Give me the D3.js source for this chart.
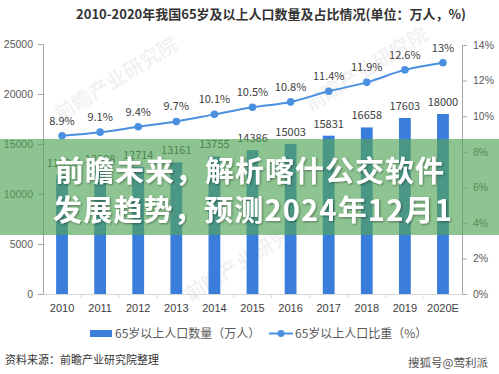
<!DOCTYPE html>
<html>
<head>
<meta charset="utf-8">
<script src="https://cdn.jsdelivr.net/npm/d3@7"></script>
<style>
  html,body{margin:0;padding:0;background:#fff;}
  svg{display:block;font-family:"Noto Sans CJK SC","Noto Sans",sans-serif;}
</style>
</head>
<body>
<div id="chart"></div>
<script>
// 65岁以上人口：柱 = 数量（万人，左轴），线 = 比重（%，右轴）
const years = ["2010","2011","2012","2013","2014","2015","2016","2017","2018","2019","2020E"];
const population = [11894,12288,12714,13161,13755,14386,15003,15831,16658,17603,18000];
const share = [8.9,9.1,9.4,9.7,10.1,10.5,10.8,11.4,11.9,12.6,13];
const leftTicks = [0,5000,10000,15000,20000,25000];
const rightTicks = [0,2,4,6,8,10,12,14];

const W=499, H=374, m={l:43,r:37,t:44,b:80};
const svg = d3.select("#chart").append("svg").attr("width",W).attr("height",H);

const x = d3.scaleBand().domain(years).range([m.l, W-m.r]).paddingInner(0.69).paddingOuter(0.345);
const yL = d3.scaleLinear().domain([0,25000]).range([H-m.b, m.t]);
const yR = d3.scaleLinear().domain([0,14]).range([H-m.b, m.t+1]);

// 标题
svg.append("text").attr("x",271).attr("y",19).attr("text-anchor","middle")
  .attr("font-size",13).attr("font-weight",700).attr("fill","#333")
  .text("2010-2020年我国65岁及以上人口数量及占比情况(单位：万人，%)");

// 水印（很淡）
[[120,85],[370,75],[250,265]].forEach(([wx,wy])=>{
  svg.append("text").attr("transform",`translate(${wx},${wy}) rotate(-32)`).attr("text-anchor","middle")
    .attr("font-size",20).attr("font-weight",700).attr("fill","#000").attr("opacity",0.05).text("前瞻产业研究院");
});

// 坐标轴
const axL = svg.append("g").attr("transform",`translate(${m.l},0)`)
  .call(d3.axisLeft(yL).tickValues(leftTicks).tickSize(5).tickPadding(5).tickFormat(d3.format("d")));
const axR = svg.append("g").attr("transform",`translate(${W-m.r},0)`)
  .call(d3.axisRight(yR).tickValues(rightTicks).tickSize(5).tickPadding(6).tickFormat(d=>d+"%"));
[axL,axR].forEach(a=>{
  a.select(".domain").attr("stroke","#a6a6a6");
  a.selectAll(".tick line").attr("stroke","#a6a6a6");
  a.selectAll("text").attr("font-size",10.5).attr("fill","#595959").attr("font-family",null);
});

const axB = svg.append("g").attr("transform",`translate(0,${H-m.b})`)
  .call(d3.axisBottom(x).tickSize(0).tickPadding(10));
axB.select(".domain").attr("stroke","#d9d9d9");
axB.selectAll("text").attr("font-size",11).attr("fill","#404040").attr("font-family",null);
// 类目间的小刻度
axB.selectAll(".sep").data(years.slice(1)).join("line").attr("class","sep")
  .attr("x1",d=>x(d)-x.step()*x.paddingInner()/2).attr("x2",d=>x(d)-x.step()*x.paddingInner()/2)
  .attr("y1",0).attr("y2",4).attr("stroke","#d9d9d9");

// 柱
svg.append("g").selectAll("rect").data(years).join("rect")
  .attr("x",d=>x(d)).attr("width",x.bandwidth())
  .attr("y",(d,i)=>yL(population[i])).attr("height",(d,i)=>yL(0)-yL(population[i]))
  .attr("fill","#3b7ddb");
svg.append("g").selectAll("text").data(years).join("text")
  .attr("x",d=>x(d)+x.bandwidth()/2).attr("y",(d,i)=>yL(population[i])-8)
  .attr("text-anchor","middle").attr("font-size",11).attr("fill","#404040")
  .text((d,i)=>population[i]);

// 折线
const cx = d=>x(d)+x.bandwidth()/2;
svg.append("path").datum(years)
  .attr("d",d3.line().x(cx).y((d,i)=>yR(share[i])).curve(d3.curveMonotoneX))
  .attr("fill","none").attr("stroke","#4a8fe0").attr("stroke-width",2);
svg.append("g").selectAll("circle").data(years).join("circle")
  .attr("cx",cx).attr("cy",(d,i)=>yR(share[i])).attr("r",3.8).attr("fill","#4a8fe0");
svg.append("g").selectAll("text").data(years).join("text")
  .attr("x",cx).attr("y",(d,i)=>yR(share[i])-11)
  .attr("text-anchor","middle").attr("font-size",11).attr("fill","#404040")
  .text((d,i)=>share[i]+"%");

// 图例
const lg = svg.append("g").attr("font-size",12).attr("fill","#595959");
lg.append("rect").attr("x",90).attr("y",330).attr("width",22).attr("height",7).attr("fill","#3b7ddb");
lg.append("text").attr("x",115).attr("y",338).text("65岁以上人口数量（万人）");
lg.append("line").attr("x1",269).attr("x2",293).attr("y1",333.5).attr("y2",333.5).attr("stroke","#4a8fe0").attr("stroke-width",2);
lg.append("circle").attr("cx",281).attr("cy",333.5).attr("r",3.5).attr("fill","#4a8fe0");
lg.append("text").attr("x",295).attr("y",338).text("65岁以上人口比重（%）");

// 来源
svg.append("text").attr("x",5).attr("y",364).attr("font-size",11).attr("fill","#333").text("资料来源：前瞻产业研究院整理");
svg.append("text").attr("x",488).attr("y",367).attr("text-anchor","end").attr("font-size",11.5)
  .attr("fill","#555").text("搜狐号@莺利派");

// 绿色遮罩和标题文字
svg.append("rect").attr("x",0).attr("y",139).attr("width",W).attr("height",96)
  .attr("fill","rgb(82,165,88)").attr("opacity",0.66);
const defs = svg.append("defs");
defs.append("filter").attr("id","sh").attr("x","-10%").attr("y","-20%").attr("width","120%").attr("height","140%")
  .append("feDropShadow").attr("dx",1).attr("dy",1).attr("stdDeviation",1.2).attr("flood-color","#000").attr("flood-opacity",0.4);
const ov = svg.append("g").attr("font-size",29).attr("font-weight",700).attr("fill","#fff").attr("filter","url(#sh)");
ov.append("text").attr("x",55).attr("y",182).attr("letter-spacing",1).text("前瞻未来，解析喀什公交软件");
ov.append("text").attr("x",53).attr("y",221).attr("letter-spacing",1.2).text("发展趋势，预测2024年12月1");
</script>
</body>
</html>
